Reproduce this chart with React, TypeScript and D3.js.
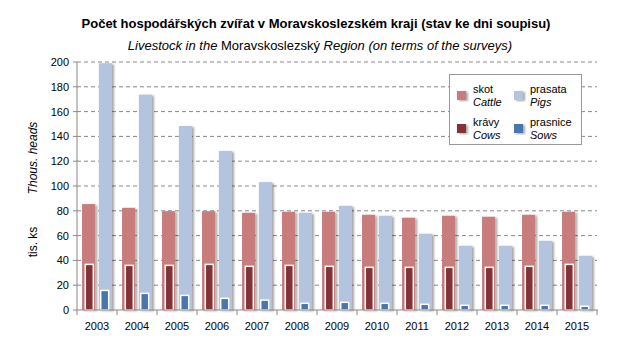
import * as d3 from "d3"

const years = ["2003", "2004", "2005", "2006", "2007", "2008", "2009", "2010", "2011", "2012", "2013", "2014", "2015"]
const cattle = [85.4, 82.4, 79.7, 79.7, 78.4, 79.2, 79.2, 76.8, 74.4, 76, 75.2, 76.8, 79.2]
const cows = [36.8, 36, 36, 36.8, 35.2, 36, 35.2, 34.4, 34.4, 34.4, 34.4, 35.2, 36.8]
const pigs = [199, 173.7, 148.4, 128.3, 103.1, 78.4, 84, 76, 61.5, 51.8, 51.8, 55.8, 43.7]
const sows = [15.8, 13.4, 11.8, 9.4, 8, 5.4, 6.2, 5.4, 4.6, 3.8, 3.8, 3.8, 3]
const yTicks = [0, 20, 40, 60, 80, 100, 120, 140, 160, 180, 200]

const colors = { cattle: "#c97b7b", pigs: "#b4c3de", cows: "#833236", sows: "#4a76ae" }
const font = "'Liberation Sans', Arial, sans-serif"

const App = () => {
  const width = 631
  const height = 358
  const left = 77
  const right = 597
  const top = 62
  const bottom = 310

  const x = d3.scaleBand().domain(years).range([left, right])
  const outer = d3.scaleBand().domain(["a", "b"]).range([0, x.bandwidth()]).paddingInner(0.22).paddingOuter(0.3)
  const inner = d3.scaleBand().domain(["a", "b"]).range([0, x.bandwidth()]).paddingInner(0.48).paddingOuter(0.54)
  const y = d3.scaleLinear().domain([0, 200]).range([bottom, top])

  const legend = [
    { color: colors.cattle, cz: "skot", en: "Cattle", lx: 457, ly: 91 },
    { color: colors.pigs, cz: "prasata", en: "Pigs", lx: 514, ly: 91 },
    { color: colors.cows, cz: "krávy", en: "Cows", lx: 457, ly: 124 },
    { color: colors.sows, cz: "prasnice", en: "Sows", lx: 514, ly: 124 },
  ]

  return (
    <svg width={width} height={height} style={{ position: "absolute", left: 0, top: 0, fontFamily: font }}>
      <defs>
        <filter id="sh" x="-30%" y="-10%" width="170%" height="130%">
          <feDropShadow dx="2" dy="1" stdDeviation="1.3" floodColor="#000" floodOpacity="0.35" />
        </filter>
      </defs>
      <rect width={width} height={height} fill="#fff" />

      {/* titles */}
      <text x={316} y={28} textAnchor="middle" fontSize={13} fontWeight="bold" fill="#000">
        Počet hospodářských zvířat v Moravskoslezském kraji (stav ke dni soupisu)
      </text>
      <text x={320} y={50} textAnchor="middle" fontSize={13} fill="#000">
        <tspan fontStyle="italic">Livestock in the </tspan>
        <tspan>Moravskoslezský</tspan>
        <tspan fontStyle="italic"> Region (on terms of the surveys)</tspan>
      </text>

      {/* gridlines */}
      {yTicks.filter((t) => t > 0).map((t) => (
        <line key={t} x1={left} x2={right} y1={y(t)} y2={y(t)} stroke="#888" strokeDasharray="4,3" />
      ))}

      {/* bars */}
      {years.map((yr, i) => {
        const bx = x(yr) || 0
        return (
          <g key={yr}>
            <rect x={bx + (outer("a") || 0)} y={y(cattle[i])} width={outer.bandwidth()} height={bottom - y(cattle[i])} fill={colors.cattle} filter="url(#sh)" />
            <rect x={bx + (outer("b") || 0)} y={y(pigs[i])} width={outer.bandwidth()} height={bottom - y(pigs[i])} fill={colors.pigs} filter="url(#sh)" />
            <rect x={bx + (inner("a") || 0)} y={y(cows[i])} width={inner.bandwidth()} height={bottom - y(cows[i])} fill={colors.cows} stroke="#fff" strokeWidth={1.5} />
            <rect x={bx + (inner("b") || 0)} y={y(sows[i])} width={inner.bandwidth()} height={bottom - y(sows[i])} fill={colors.sows} stroke="#fff" strokeWidth={1.5} />
          </g>
        )
      })}

      {/* axes */}
      <line x1={left} x2={left} y1={top} y2={bottom} stroke="#888" />
      <line x1={left} x2={right + 1} y1={bottom} y2={bottom} stroke="#888" />
      {yTicks.map((t) => (
        <g key={t}>
          <line x1={left - 4} x2={left} y1={y(t)} y2={y(t)} stroke="#888" />
          <text x={left - 8} y={y(t) + 4} textAnchor="end" fontSize={11} fill="#000">{t}</text>
        </g>
      ))}
      {years.map((yr) => (
        <g key={yr}>
          <line x1={(x(yr) || 0) + x.bandwidth()} x2={(x(yr) || 0) + x.bandwidth()} y1={bottom} y2={bottom + 5} stroke="#888" />
          <text x={(x(yr) || 0) + x.bandwidth() / 2} y={330} textAnchor="middle" fontSize={11} fill="#000">{yr}</text>
        </g>
      ))}
      <line x1={left} x2={left} y1={bottom} y2={bottom + 5} stroke="#888" />

      {/* axis titles */}
      <text transform="translate(37,158) rotate(-90)" textAnchor="middle" fontSize={12} fontStyle="italic" fill="#000">Thous. heads</text>
      <text transform="translate(37,242) rotate(-90)" textAnchor="middle" fontSize={12} fill="#000">tis. ks</text>

      {/* legend */}
      <rect x={449.5} y={74.5} width={132} height={70} fill="#fff" stroke="#999" />
      {legend.map((l) => (
        <g key={l.cz}>
          <rect x={l.lx} y={l.ly} width={9} height={9} fill={l.color} filter="url(#sh)" />
          <text x={l.lx + 16} y={l.ly + 2} fontSize={11} fill="#000">{l.cz}</text>
          <text x={l.lx + 16} y={l.ly + 14.5} fontSize={11} fontStyle="italic" fill="#000">{l.en}</text>
        </g>
      ))}
    </svg>
  )
}

export default App
